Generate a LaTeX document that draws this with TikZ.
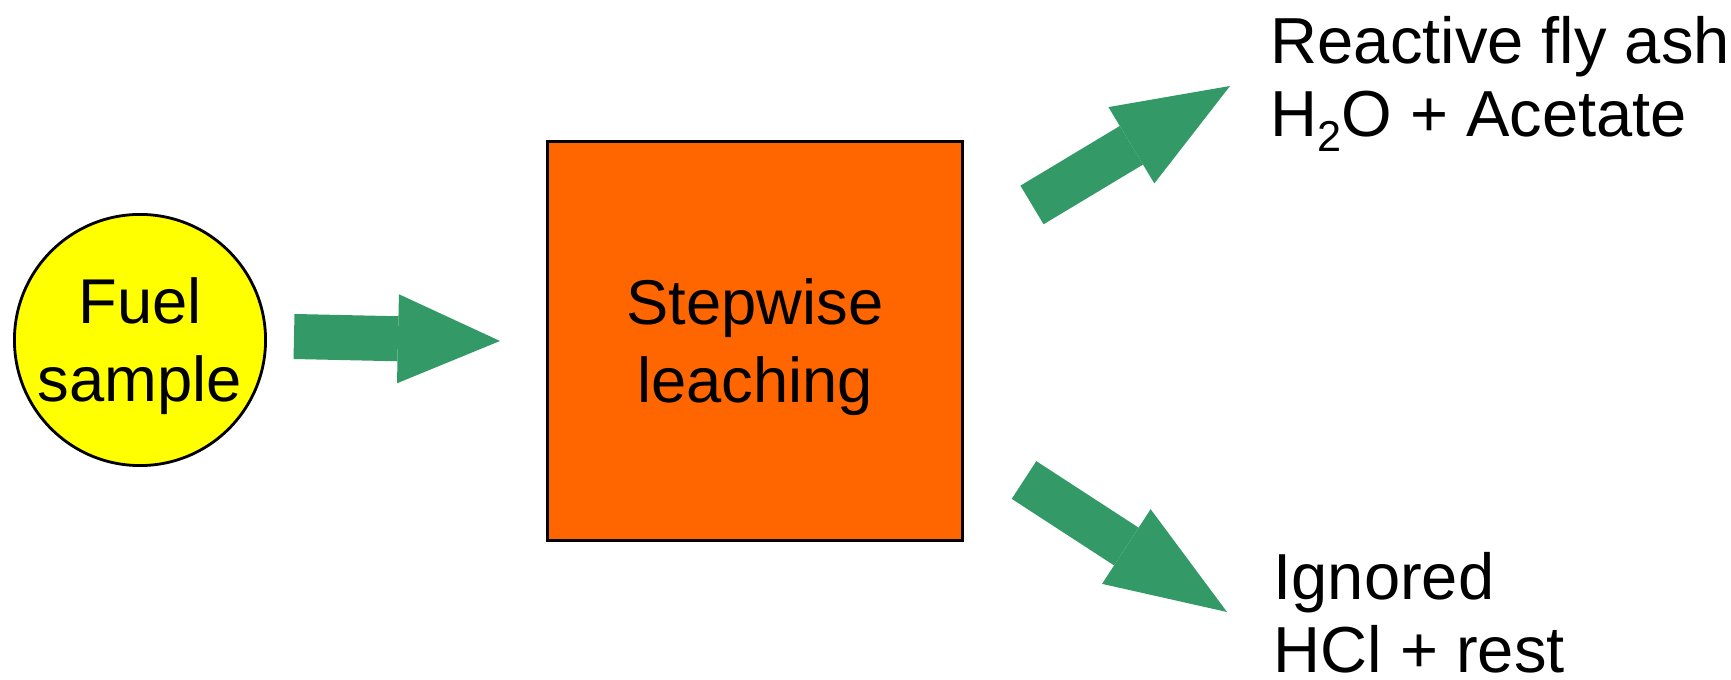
\documentclass[tikz,border=0pt]{standalone}
\usepackage{fontspec}
\setmainfont{Liberation Sans}
\usetikzlibrary{arrows.meta,positioning}
\definecolor{fuelyellow}{HTML}{FFFF00}
\definecolor{leachorange}{HTML}{FF6600}
\definecolor{flowgreen}{HTML}{339966}
% lowered, two-thirds size index for formulas
\newcommand{\chemsub}[1]{\raisebox{-0.23em}{\fontsize{12.3}{12}\selectfont #1}}
\tikzset{
  fuelnode/.style={circle,draw=black,thick,fill=fuelyellow,minimum size=2.51cm,inner sep=0pt,
    align=center,text depth=0pt,font=\fontsize{18}{22.2}\selectfont},
  leachbox/.style={rectangle,draw=black,thick,fill=leachorange,minimum width=4.14cm,
    minimum height=3.98cm,align=center,text depth=0pt,font=\fontsize{18}{22.2}\selectfont},
  outtext/.style={anchor=base west,inner sep=0pt,align=left,font=\fontsize{18.5}{21}\selectfont},
  flowarrow/.style={draw=flowgreen,line width=0.45cm,
    -{Triangle[length=#1,width=0.89cm,line width=0pt]}}
}

\begin{document}
\begin{tikzpicture}[x=0.01cm,y=-0.01cm]
\useasboundingbox (0,0) rectangle (1731,680);
\node[fuelnode] (fuel) at (140,340) {Fuel\\sample};
\node[leachbox] (leach) at (755,341) {Stepwise\\leaching};
% base west sits on the second line
\node[outtext] (reactive) at (1270,137) {Reactive fly ash\\H\chemsub{2}O + Acetate};
\node[outtext] (ignored) at (1273,673) {Ignored\\HCl + rest};
% ends of the three block arrows
\coordinate (feed-tail) at (294,336.5);
\coordinate (feed-tip) at (500,341);
\coordinate (ash-tail) at (1032,205);
\coordinate (ash-tip) at (1230,86);
\coordinate (rest-tail) at (1024,480);
\coordinate (rest-tip) at (1227,612);
\draw[flowarrow=1.02cm] (feed-tail) -- (feed-tip);
\draw[flowarrow=1.15cm] (ash-tail) -- (ash-tip);
\draw[flowarrow=1.2cm] (rest-tail) -- (rest-tip);
\end{tikzpicture}
\end{document}
